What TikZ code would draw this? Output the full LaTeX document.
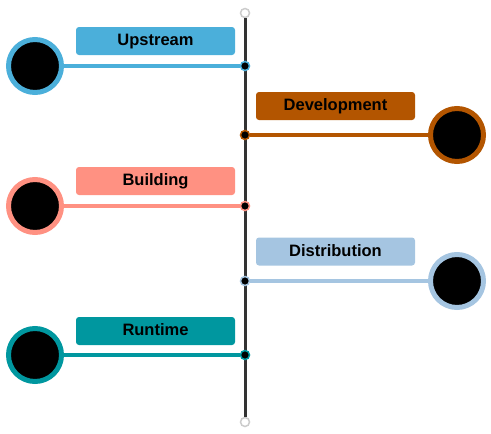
\documentclass[tikz,border=0pt]{standalone}
\usepackage{fontspec}
\setmainfont{Liberation Sans}
\definecolor{upstreamblue}{HTML}{4BAFDA}
\definecolor{devbrown}{HTML}{B35500}
\definecolor{buildsalmon}{HTML}{FF9182}
\definecolor{distblue}{HTML}{A5C5E1}
\definecolor{runteal}{HTML}{00979F}
\definecolor{axisgray}{HTML}{333333}
\definecolor{ringgray}{HTML}{CCCCCC}
\begin{document}
\begin{tikzpicture}[x=1pt,y=-1pt,
    stage/.style={circle,fill=black,draw=#1,line width=5pt,minimum size=53pt,inner sep=0pt},
    tag/.style={rectangle,rounded corners=3pt,fill=#1,minimum width=159pt,minimum height=28pt,inner sep=0pt,text height=12pt,text depth=3pt,font=\bfseries\fontsize{16.5}{16.5}\selectfont},
    dot/.style={circle,fill=black,draw=#1,line width=1.5pt,minimum size=9pt,inner sep=0pt},
    endring/.style={circle,fill=white,draw=ringgray,line width=1.5pt,minimum size=9pt,inner sep=0pt},
    link/.style={draw=#1,line width=4pt}]
    \useasboundingbox (0,0) rectangle (491,434);
    % time axis
    \node[endring] (top) at (245,13) {};
    \node[endring] (bottom) at (245,422) {};
    \draw[axisgray,line width=3pt] (top) -- (bottom);
    % Upstream
    \node[tag=upstreamblue] (upstreamtag) at (155.5,41) {Upstream};
    \node[stage=upstreamblue] (upstream) at (35,66) {};
    \node[dot=upstreamblue] (upstreamdot) at (245,66) {};
    \draw[link=upstreamblue] (upstream) -- (upstreamdot);
    % Development
    \node[tag=devbrown] (devtag) at (335.5,106) {Development};
    \node[stage=devbrown] (dev) at (457,135) {};
    \node[dot=devbrown] (devdot) at (245,135) {};
    \draw[link=devbrown] (dev) -- (devdot);
    % Building
    \node[tag=buildsalmon] (buildtag) at (155.5,181) {Building};
    \node[stage=buildsalmon] (build) at (35,206) {};
    \node[dot=buildsalmon] (builddot) at (245,206) {};
    \draw[link=buildsalmon] (build) -- (builddot);
    % Distribution
    \node[tag=distblue] (disttag) at (335.5,251.5) {Distribution};
    \node[stage=distblue] (dist) at (457,281) {};
    \node[dot=distblue] (distdot) at (245,281) {};
    \draw[link=distblue] (dist) -- (distdot);
    % Runtime
    \node[tag=runteal] (runtag) at (155.5,331) {Runtime};
    \node[stage=runteal] (run) at (35,355) {};
    \node[dot=runteal] (rundot) at (245,355) {};
    \draw[link=runteal] (run) -- (rundot);
\end{tikzpicture}
\end{document}
